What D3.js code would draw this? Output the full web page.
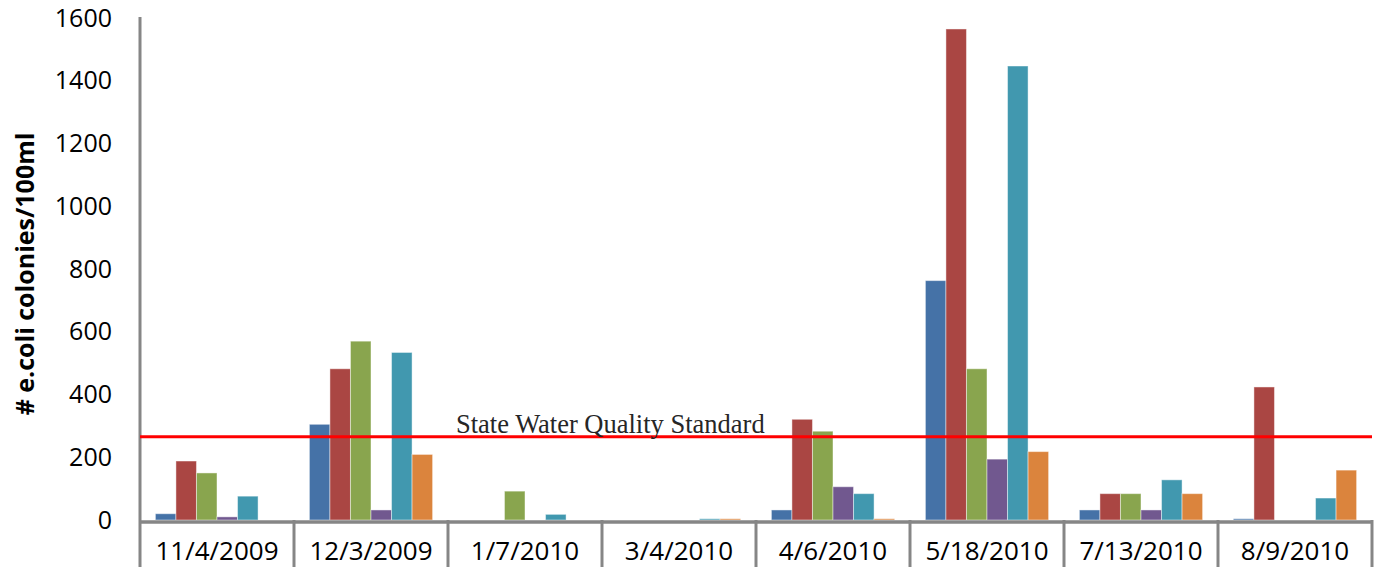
<!DOCTYPE html>
<html>
<head>
<meta charset="utf-8">
<script src="https://cdn.jsdelivr.net/npm/d3@7"></script>
<style>
  body { margin: 0; background: #fff; }
  svg { display: block; }
</style>
</head>
<body>
<div id="chart"></div>
<script>
// Sampling dates (x categories)
var dates = ["11/4/2009", "12/3/2009", "1/7/2010", "3/4/2010", "4/6/2010", "5/18/2010", "7/13/2010", "8/9/2010"];

// Six sampling sites, one value per date (colonies / 100ml)
var site1 = [20, 305, 0, 0, 32, 763, 32, 4];
var site2 = [188, 482, 0, 0, 321, 1565, 84, 424];
var site3 = [150, 570, 92, 0, 283, 482, 84, 0];
var site4 = [10, 32, 0, 0, 106, 194, 32, 0];
var site5 = [76, 534, 18, 4, 84, 1447, 128, 70];
var site6 = [0, 209, 0, 4, 4, 218, 84, 159];

var seriesNames = ["Site 1", "Site 2", "Site 3", "Site 4", "Site 5", "Site 6"];
var seriesColors = ["#4572A7", "#AA4643", "#89A54E", "#71588F", "#4198AF", "#DB843D"];

var yTicks = [0, 200, 400, 600, 800, 1000, 1200, 1400, 1600];
var standardValue = 265;
var standardLabel = "State Water Quality Standard";
var yTitle = "# e.coli colonies/100ml";

var width = 1377, height = 567;
var series = [site1, site2, site3, site4, site5, site6];

var svg = d3.select("#chart").append("svg")
    .attr("width", width)
    .attr("height", height);

// scales
var x0 = d3.scaleBand().domain(dates).range([140, 1372]).padding(0);
var x1 = d3.scaleBand().domain(d3.range(seriesNames.length))
    .range([0, x0.bandwidth()])
    .paddingInner(0)
    .paddingOuter(0.75);
var y = d3.scaleLinear().domain([0, 1600]).range([520, 18]);

// bars
var groups = svg.append("g").selectAll("g")
    .data(dates)
    .enter().append("g")
    .attr("transform", d => "translate(" + x0(d) + ",0)");

groups.selectAll("rect")
    .data((d, i) => series.map((s, k) => ({ k: k, v: s[i] })))
    .enter().append("rect")
    .filter(d => d.v > 0)
    .attr("x", d => x1(d.k))
    .attr("width", x1.bandwidth())
    .attr("y", d => y(d.v))
    .attr("height", d => y(0) - y(d.v))
    .attr("fill", d => seriesColors[d.k])
    .attr("stroke", "rgba(255,255,255,0.45)")
    .attr("stroke-width", 1);

// y axis labels (no tick marks)
var yAxis = svg.append("g")
    .attr("transform", "translate(112,0)")
    .call(d3.axisLeft(y).tickValues(yTicks).tickSize(0).tickPadding(0).tickFormat(d3.format("d")));
yAxis.select(".domain").remove();
yAxis.selectAll("text")
    .attr("font-family", "'Open Sans', sans-serif")
    .attr("font-size", 25)
    .attr("fill", "#000");

// axis lines
var axisColor = "#868686";
svg.append("line")
    .attr("x1", 140).attr("x2", 140)
    .attr("y1", 17).attr("y2", height)
    .attr("stroke", axisColor).attr("stroke-width", 3);

svg.append("line")
    .attr("x1", 140).attr("x2", x0.range()[1])
    .attr("y1", y(0) + 2).attr("y2", y(0) + 2)
    .attr("stroke", axisColor).attr("stroke-width", 3.5);

// category separators extending below the axis
var bounds = dates.map(d => x0(d)).concat([x0.range()[1]]);
svg.append("g").selectAll("line")
    .data(bounds.slice(1))
    .enter().append("line")
    .attr("x1", d => d).attr("x2", d => d)
    .attr("y1", y(0)).attr("y2", height)
    .attr("stroke", axisColor).attr("stroke-width", 3);

// category labels
svg.append("g").selectAll("text")
    .data(dates)
    .enter().append("text")
    .attr("x", d => x0(d) + x0.bandwidth() / 2)
    .attr("y", 560)
    .attr("text-anchor", "middle")
    .attr("font-family", "'Open Sans', sans-serif")
    .attr("font-size", 26)
    .attr("fill", "#000")
    .text(d => d);

// water quality standard line
svg.append("line")
    .attr("x1", 140).attr("x2", x0.range()[1])
    .attr("y1", y(standardValue)).attr("y2", y(standardValue))
    .attr("stroke", "#FF0000").attr("stroke-width", 3);

svg.append("text")
    .attr("x", 456)
    .attr("y", y(standardValue) - 4)
    .attr("font-family", "'Liberation Serif', 'Times New Roman', serif")
    .attr("font-size", 26.5)
    .attr("fill", "#262626")
    .text(standardLabel);

// y title
svg.append("text")
    .attr("transform", "translate(34,274) rotate(-90)")
    .attr("text-anchor", "middle")
    .attr("font-family", "'Open Sans', sans-serif")
    .attr("font-weight", "bold")
    .attr("font-size", 25)
    .attr("fill", "#000")
    .text(yTitle);
</script>
</body>
</html>
